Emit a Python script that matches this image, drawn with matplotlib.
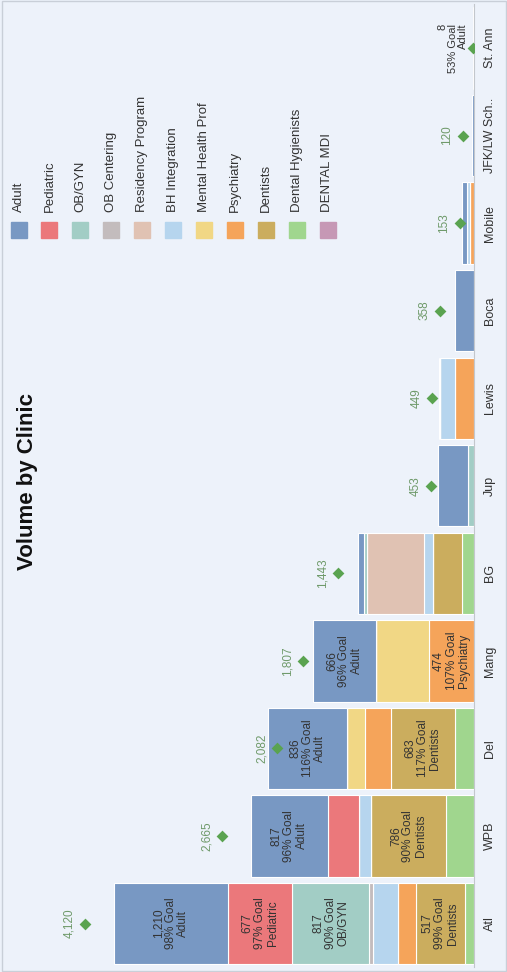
import matplotlib
matplotlib.use("Agg")
import matplotlib.pyplot as plt
from matplotlib.patches import Rectangle
import numpy as np

plt.rcParams["font.family"] = ["Liberation Sans", "DejaVu Sans"]

W, H = 507, 972
BG = "#edf2fa"
TEXT = "#333333"
GREEN = "#5aa350"
GREEN_TEXT = "#6f9a6a"

clinics = ["Atl", "WPB", "Del", "Mang", "BG", "Jup", "Lewis", "Boca",
           "Mobile", "JFK/LW Sch..", "St. Ann"]

segments = ["Adult", "Pediatric", "OB/GYN", "OB Centering", "Residency Program",
            "BH Integration", "Mental Health Prof", "Psychiatry", "Dentists",
            "Dental Hygienists", "DENTAL MDI"]
colors = ["#7898c3", "#eb787b", "#a2cdc5", "#c3bcbd", "#e0c2b3", "#b6d5ee",
          "#f1d785", "#f5a45a", "#cbad5e", "#a0d68e", "#c698b5"]

# volume per segment, one value per clinic (same order as clinics)
adult = [1210, 817, 836, 666, 63, 325, 20, 205, 53, 20, 8]
pediatric = [677, 331, 0, 0, 0, 0, 0, 0, 0, 0, 0]
ob_gyn = [817, 0, 0, 0, 40, 60, 0, 0, 0, 0, 0]
ob_centering = [40, 0, 0, 0, 0, 0, 0, 0, 0, 0, 0]
residency = [0, 0, 0, 0, 600, 0, 0, 0, 0, 0, 0]
bh_integration = [265, 130, 0, 0, 99, 0, 150, 0, 30, 0, 0]
mental_health = [0, 0, 194, 564, 0, 0, 0, 0, 0, 0, 0]
psychiatry = [185, 0, 265, 474, 0, 0, 205, 0, 40, 0, 0]
dentists = [517, 786, 683, 0, 300, 0, 0, 0, 0, 0, 0]
hygienists = [100, 300, 200, 0, 130, 0, 0, 0, 0, 0, 0]
dental_mdi = [0, 0, 0, 0, 0, 0, 0, 0, 0, 0, 0]

goals = [4120, 2665, 2082, 1807, 1443, 453, 449, 358, 153, 120, 15]
no_goal_label = ["St. Ann"]

# (clinic, segment, % of goal) for the labelled segments
seg_labels = [("Atl", "Adult", 98), ("Atl", "Pediatric", 97), ("Atl", "OB/GYN", 90),
              ("Atl", "Dentists", 99), ("WPB", "Adult", 96), ("WPB", "Dentists", 90),
              ("Del", "Adult", 116), ("Del", "Dentists", 117), ("Mang", "Adult", 96),
              ("Mang", "Psychiatry", 107), ("St. Ann", "Adult", 53)]

series = [adult, pediatric, ob_gyn, ob_centering, residency, bh_integration,
          mental_health, psychiatry, dentists, hygienists, dental_mdi]

fig = plt.figure(figsize=(W / 100, H / 100), dpi=100, facecolor=BG)
ax = fig.add_axes([0, 0.00484, 474 / W, 0.9908])
ax.set_facecolor(BG)

y = np.arange(len(clinics))
left = np.zeros(len(clinics))
seg_pos = {}
# stack from the baseline: last legend entry first, Adult on top
for name, vals, col in reversed(list(zip(segments, series, colors))):
    vals = np.array(vals, dtype=float)
    ax.barh(y, vals, left=left, height=0.93, color=col, edgecolor="white",
            linewidth=0.8, zorder=2)
    for i, c in enumerate(clinics):
        seg_pos[(c, name)] = (left[i], vals[i])
    left += vals

for c, name, pct in seg_labels:
    start, val = seg_pos[(c, name)]
    i = clinics.index(c)
    txt = f"{int(val):,}\n{pct}% Goal\n{name}"
    if val > 150:
        ax.text(start + val / 2, i, txt, rotation=90, ha="center", va="center",
                fontsize=8.5, color=TEXT, linespacing=1.05, zorder=4)
    else:
        ax.annotate(txt, (start + val, i), xytext=(-4, 0), textcoords="offset points",
                    rotation=90, ha="right", va="center", fontsize=8, color=TEXT,
                    linespacing=1.0, zorder=4)

ax.scatter(goals, y, marker="D", s=36, color=GREEN, zorder=5, linewidths=0)
for i, g in enumerate(goals):
    if clinics[i] in no_goal_label:
        continue
    ax.annotate(f"{g:,}", (g, i), xytext=(-11, 0), textcoords="offset points",
                rotation=90, ha="center", va="center", fontsize=8.5, color=GREEN_TEXT,
                zorder=5)

ax.set_xlim(474 * 10.58, 0)
ax.set_ylim(-0.5, len(clinics) - 0.5)
ax.set_xticks([])
ax.set_yticks(y, clinics)
ax.yaxis.tick_right()
ax.tick_params(axis="y", length=0, pad=7, labelsize=9, labelcolor=TEXT, labelrotation=90)
for t in ax.get_yticklabels():
    t.set_va("center")
for s in ["top", "left", "bottom"]:
    ax.spines[s].set_visible(False)
ax.spines["right"].set_color("#c3c7cc")

# title
fig.text(28 / W, 1 - 481 / H, "Volume by Clinic", rotation=90, fontsize=16,
         fontweight="bold", ha="center", va="center", color="#111111")

# legend, laid out as in the rotated dashboard
for k, (name, col) in enumerate(zip(segments, colors)):
    cx = 18.5 + 30.9 * k
    fig.add_artist(Rectangle(((cx - 8) / W, 1 - 238 / H), 16 / W, 16 / H,
                             transform=fig.transFigure, color=col))
    fig.text(cx / W, 1 - 212 / H, name, rotation=90, ha="center", va="bottom",
             fontsize=9.5, color=TEXT)

fig.add_artist(Rectangle((1.5 / W, 1.5 / H), (W - 3) / W, (H - 3) / H,
                         transform=fig.transFigure, fill=False, edgecolor="#c9cfd8",
                         linewidth=1))

fig.savefig("out.png", dpi=100, facecolor=BG)
